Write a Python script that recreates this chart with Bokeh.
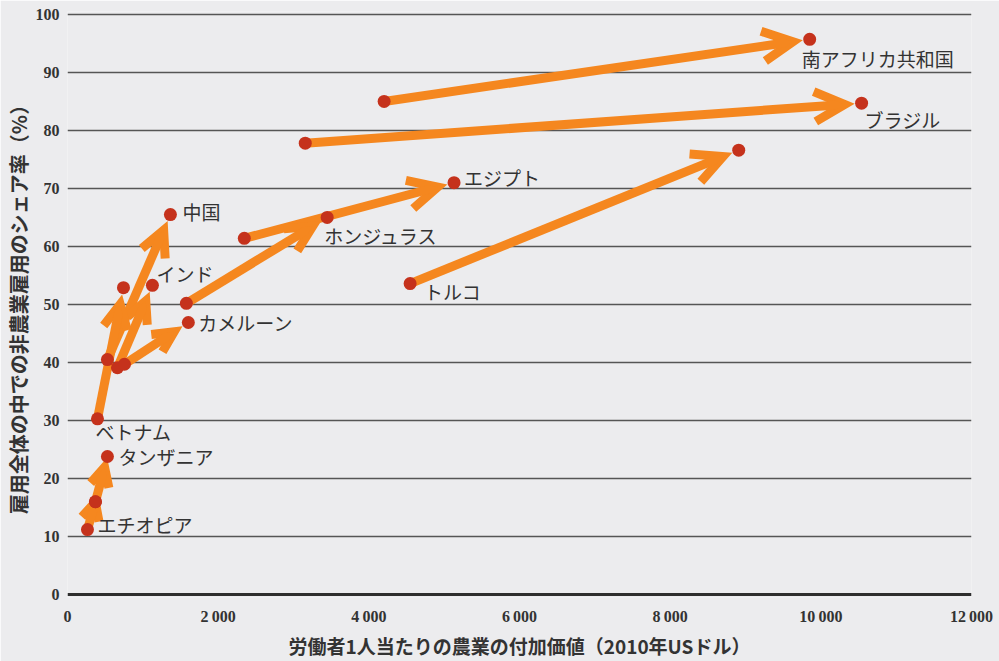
import math
from bokeh.plotting import figure
from bokeh.models import (Arrow, OpenHead, FixedTicker, Span, ColumnDataSource,
                          Range1d, LabelSet)
from bokeh.embed import file_html
from bokeh.resources import INLINE
from bokeh.core.properties import value, field

# ---------------- data ----------------
countries = ["南アフリカ共和国", "ブラジル", "トルコ", "エジプト", "ホンジュラス",
             "中国", "インド", "カメルーン", "ベトナム", "タンザニア", "エチオピア"]
x_start = [4203, 3156, 4548, 2347, 1578, 530, 663, 756, 398, 371, 265]
y_start = [85.0, 77.8, 53.6, 61.4, 50.2, 40.5, 39.1, 39.7, 30.3, 16.0, 11.2]
x_end = [9852, 10541, 8910, 5131, 3447, 1366, 1127, 1604, 743, 530, 371]
y_end = [95.7, 84.7, 76.6, 71.0, 65.0, 65.5, 53.3, 46.9, 52.9, 23.8, 16.0]
label_at_end = [True, True, False, True, True, True, True, True, False, True, False]

x_ticks = [0, 2000, 4000, 6000, 8000, 10000, 12000]
x_tick_labels = ["0", "2\u202f000", "4\u202f000", "6\u202f000", "8\u202f000", "10\u202f000", "12\u202f000"]
y_ticks = [0, 10, 20, 30, 40, 50, 60, 70, 80, 90, 100]

# label placement (screen px: right, down)
label_dx = [-8, 3, 14, 10, -3, 12, 4, 10, -2, 11, 10]
label_dy = [19, 16, 8, -5, 18, -3, -12, 0, 13, 0, -5]

# ---------------- style ----------------
BG = "#ECECEE"
ORANGE = "#F5871F"
RED = "#C5321C"
TXT = "#333333"
W, H = 999, 661
LEFT, TOP = 66, 11
FRAME_W, FRAME_H = 905, 586
X_RANGE = (0, 12000)
Y_RANGE = (-0.5, 100.5)

px_x = FRAME_W / (X_RANGE[1] - X_RANGE[0])
px_y = FRAME_H / (Y_RANGE[1] - Y_RANGE[0])

# shorten arrow tips so the head stops just before the end dot;
# head size grows a little with the arrow's on-screen length
x_tip, y_tip, head = [], [], []
for xs, ys, xe, ye in zip(x_start, y_start, x_end, y_end):
    dx = (xe - xs) * px_x
    dy = (ye - ys) * px_y
    L = math.hypot(dx, dy)
    s = min(17.0, max(0.0, 0.6 * L - 17.0))
    f = (L - s) / L
    x_tip.append(xs + (xe - xs) * f)
    y_tip.append(ys + (ye - ys) * f)
    head.append(min(30.0, max(16.0, 16.0 + 0.06 * L)))

lab_x = [xe if e else xs for xs, xe, e in zip(x_start, x_end, label_at_end)]
lab_y = [ye if e else ys for ys, ye, e in zip(y_start, y_end, label_at_end)]

src_arrows = ColumnDataSource(dict(xs=x_start, ys=y_start, xe=x_tip, ye=y_tip, hs=head))
src_pts = ColumnDataSource(dict(x=x_start + x_end, y=y_start + y_end))
src_lab = ColumnDataSource(dict(x=lab_x, y=lab_y, t=countries,
                                dx=label_dx, dy=[-d for d in label_dy]))

p = figure(width=W, height=H, output_backend="svg", toolbar_location=None,
           x_range=Range1d(*X_RANGE), y_range=Range1d(*Y_RANGE),
           min_border_left=LEFT, min_border_right=W - LEFT - FRAME_W,
           min_border_top=TOP, min_border_bottom=H - TOP - FRAME_H)
p.background_fill_color = BG
p.border_fill_color = BG
p.outline_line_color = None

# grid
p.xgrid.visible = False
p.ygrid.ticker = FixedTicker(ticks=y_ticks[1:])
p.ygrid.grid_line_color = "#555555"
p.ygrid.grid_line_width = 1.3
p.add_layout(Span(location=0, dimension="width", line_color="#2e2e2e", line_width=3))

# axes
for ax in (p.xaxis, p.yaxis):
    ax.axis_line_color = None
    ax.major_tick_line_color = None
    ax.minor_tick_line_color = None
    ax.major_tick_out = 0
    ax.major_tick_in = 0
    ax.minor_tick_out = 0
    ax.minor_tick_in = 0
    ax.major_label_text_font = "Liberation Sans Narrow"
    ax.major_label_text_font_style = "bold"
    ax.major_label_text_font_size = "16px"
    ax.major_label_text_color = TXT
    ax.axis_label_text_font = "Noto Sans CJK JP"
    ax.axis_label_text_font_style = "bold"
    ax.axis_label_text_font_size = "19px"
    ax.axis_label_text_color = TXT

p.xaxis.ticker = FixedTicker(ticks=x_ticks)
p.xaxis.major_label_overrides = {t: l for t, l in zip(x_ticks, x_tick_labels)}
p.xaxis.axis_label = "労働者1人当たりの農業の付加価値（2010年USドル）"
p.xaxis.major_label_standoff = 10
p.xaxis.axis_label_standoff = 4

p.yaxis.ticker = FixedTicker(ticks=y_ticks)
p.yaxis.axis_label = "雇用全体の中での非農業雇用のシェア率（%）"
p.yaxis.axis_label_text_font_size = "20px"
p.yaxis.major_label_standoff = 8
p.yaxis.axis_label_standoff = 0

# arrows
arrows = Arrow(source=src_arrows, x_start="xs", y_start="ys", x_end="xe", y_end="ye",
               line_color=ORANGE, line_width=9,
               end=OpenHead(size=field("hs"), line_color=ORANGE, line_width=9,
                            line_join="miter"))
arrows.level = "glyph"
p.add_layout(arrows)

# dots
pts = p.scatter("x", "y", source=src_pts, size=13, fill_color=RED, line_color=None)
pts.level = "overlay"

labels = LabelSet(source=src_lab, x="x", y="y", text="t", x_offset="dx", y_offset="dy",
                  text_font=value("Noto Sans CJK JP"), text_font_size="19px",
                  text_color=TXT, text_baseline="middle", text_align="left")
labels.level = "overlay"
p.add_layout(labels)

open("out.html", "w").write(file_html(p, INLINE))
